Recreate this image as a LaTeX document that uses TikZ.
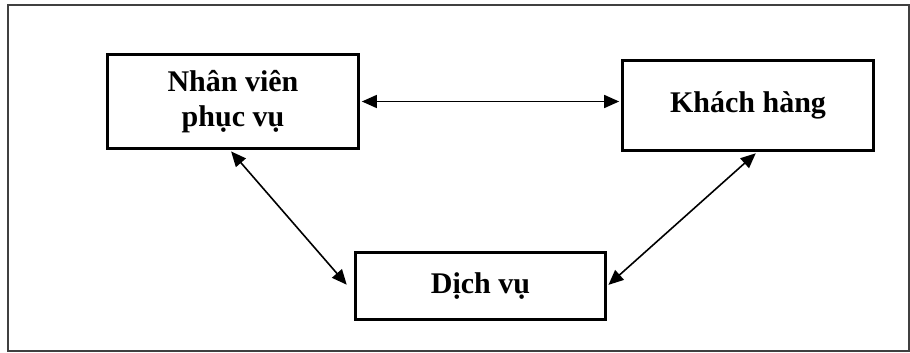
\documentclass[tikz,border=0pt]{standalone}
\usepackage{fontspec}
\setmainfont{Liberation Serif}
\usetikzlibrary{arrows.meta,calc}
\begin{document}
\begin{tikzpicture}[x=1pt,y=-1pt,
  box/.style={draw=black,line width=3.3pt,align=center,inner sep=0pt,
    font=\fontsize{30}{35}\selectfont\bfseries},
  link/.style={line width=1.6pt,{Triangle[length=15pt,width=13pt]}-{Triangle[length=15pt,width=13pt]},
    shorten <=1.7pt,shorten >=1.7pt}]
\useasboundingbox (0,0) rectangle (910,353);
\draw[line width=1.5pt,black!75] (8,5) rectangle (909,351);
\node[box,minimum width=251pt,minimum height=94pt] (nv) at (233,101.5) {Nhân viên\\phục vụ};
\node[box,minimum width=251pt,minimum height=90pt] (kh) at (748,105.5) {Khách hàng};
\node[box,minimum width=250pt,minimum height=67pt] (dv) at (480.5,286) {Dịch vụ};
\draw[link] (nv.east) -- (nv.east -| kh.west);
\draw[link] ([xshift=-3pt]nv.south) -- ([xshift=-6pt]dv.west);
\draw[link] ([xshift=9pt]kh.south) -- (dv.east);
\end{tikzpicture}
\end{document}
